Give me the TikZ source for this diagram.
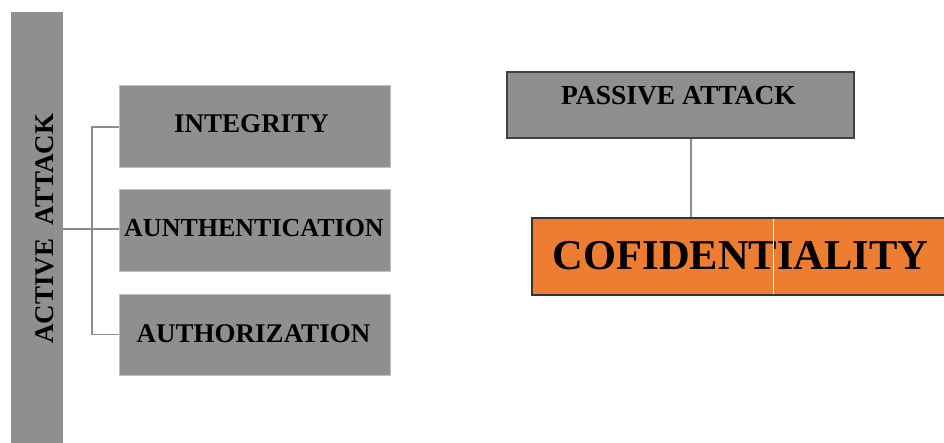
\documentclass[tikz,border=0pt]{standalone}
\usepackage{fontspec}
\setmainfont{Liberation Serif}
\begin{document}
\begin{tikzpicture}[x=1pt,y=-1pt,
  graybox/.style={draw=black!25,line width=0.6pt,fill=boxgray,inner sep=0pt,
    minimum width=#1},
  edgebox/.style={line width=1.4pt,inner sep=0pt},
  tag/.style={font=\bfseries\fontsize{27}{30}\selectfont,inner sep=0pt,anchor=base},
  link/.style={draw=linkgray,line width=1.4pt}
]
\definecolor{boxgray}{HTML}{8F8F8F}
\definecolor{linkgray}{HTML}{8C8C8C}
\definecolor{edgegray}{HTML}{404040}
\definecolor{conforange}{HTML}{ED7D31}
\useasboundingbox (0,0) rectangle (944,443);

% left column: active attacks
\node[fill=boxgray,inner sep=0pt,minimum width=52pt,minimum height=440pt] (bar) at (37,232) {};
\node[tag,font=\bfseries\fontsize{27}{30}\selectfont,rotate=90] (bart) at (53,228.5) {ACTIVE\ \ ATTACK};

\node[graybox=271pt,minimum height=82pt] (integ) at (254.5,126) {};
\node[graybox=271pt,minimum height=82pt] (authn) at (254.5,230) {};
\node[graybox=271pt,minimum height=81pt] (authz) at (254.5,334.5) {};
\node[tag] (integt) at (251.5,133) {INTEGRITY};
\node[tag,font=\bfseries\fontsize{26}{30}\selectfont] (authnt) at (254,237) {AUNTHENTICATION};
\node[tag] (authzt) at (253.5,342) {AUTHORIZATION};

\coordinate (fork) at (92,229);
\draw[link] (bar.east |- fork) -- (authn.west |- fork);
\draw[link] (integ.west |- 0,127) -| (fork) |- (authz.west);

% right column: passive attack
\node[edgebox,draw=edgegray,fill=boxgray,minimum width=347pt,minimum height=66pt] (passive) at (680.5,105) {};
\node[tag,font=\bfseries\fontsize{27.5}{30}\selectfont] (passivet) at (678.5,105) {PASSIVE ATTACK};

\node[edgebox,draw=edgegray!80!black,fill=conforange,minimum width=418pt,minimum height=77pt] (conf) at (741,256.5) {};
\node[tag,font=\bfseries\fontsize{42.5}{46}\selectfont] (conft) at (740.5,270) {COFIDENTIALITY};
\draw[white,line width=1pt] (773,219) -- (773,294);

\coordinate (drop) at (691,138);
\draw[link] (passive.south -| drop) -- (conf.north -| drop);
\end{tikzpicture}
\end{document}
